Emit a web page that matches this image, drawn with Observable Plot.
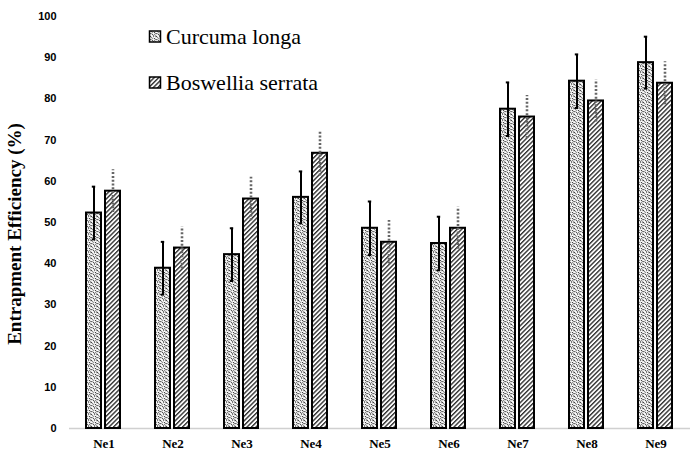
<!DOCTYPE html>
<html>
<head>
<meta charset="utf-8">
<script src="https://cdn.jsdelivr.net/npm/d3@7"></script>
<script src="https://cdn.jsdelivr.net/npm/@observablehq/plot@0.6"></script>
<style>
  body { margin: 0; background: #fff; }
  #chart svg { display: block; }
</style>
</head>
<body>
<div id="chart"></div>
<script>
const categories = ["Ne1", "Ne2", "Ne3", "Ne4", "Ne5", "Ne6", "Ne7", "Ne8", "Ne9"];
const seriesNames = ["Curcuma longa", "Boswellia serrata"];
const curcuma = [52.3, 38.9, 42.2, 56.1, 48.6, 44.9, 77.5, 84.3, 88.8];
const curcumaErr = [6.4, 6.4, 6.4, 6.3, 6.5, 6.5, 6.5, 6.5, 6.3];
const boswellia = [57.6, 43.8, 55.7, 66.8, 45.2, 48.6, 75.6, 79.5, 83.8];
const boswelliaErr = [5.2, 5.1, 5.3, 5.5, 5.3, 5.1, 5.2, 5.1, 5.2];
const yTicks = [0, 10, 20, 30, 40, 50, 60, 70, 80, 90, 100];
const yLabel = "Entrapment Efficiency (%)";

const SERIF = "'Liberation Serif', 'Times New Roman', Times, serif";
const SANS = "'Liberation Sans', Arial, Helvetica, sans-serif";

const rows = [];
categories.forEach((c, i) => {
  rows.push({cat: c, series: seriesNames[0], value: curcuma[i], err: curcumaErr[i]});
  rows.push({cat: c, series: seriesNames[1], value: boswellia[i], err: boswelliaErr[i]});
});
const isC = d => d.series === seriesNames[0];
const fillFor = s => s === seriesNames[0] ? "url(#dotsPat)" : "url(#hatchPat)";

const chart = Plot.plot({
  width: 691,
  height: 450,
  marginTop: 16,
  marginBottom: 22,
  marginLeft: 68,
  marginRight: 0,
  facet: {data: rows, x: "cat"},
  fx: {domain: categories, padding: 0, axis: "bottom", tickSize: 0, tickPadding: 10, label: null},
  x: {domain: seriesNames, paddingInner: 0.2, paddingOuter: 0.83, axis: null},
  y: {domain: [0, 100], ticks: yTicks, tickSize: 0, tickPadding: 13, label: null, grid: false},
  style: {background: "#fff", color: "#000"},
  marks: [
    Plot.ruleY([0], {stroke: "#d0d0d0", strokeWidth: 1.5}),
    Plot.barY(rows, {x: "series", y: "value", fill: d => fillFor(d.series), stroke: "#000", strokeWidth: 2}),
    // Curcuma: solid black error bars with caps
    Plot.ruleX(rows, {x: "series", y1: d => d.value - d.err, y2: d => d.value + d.err,
      stroke: d => isC(d) ? "#000" : "none", strokeWidth: 2}),
    Plot.tickY(rows, {x: "series", y: d => d.value + d.err,
      stroke: d => isC(d) ? "#000" : "none", strokeWidth: 2, insetLeft: 5.8, insetRight: 5.8}),
    Plot.tickY(rows, {x: "series", y: d => d.value - d.err,
      stroke: d => isC(d) ? "#000" : "none", strokeWidth: 2, insetLeft: 5.8, insetRight: 5.8}),
    // Boswellia: dotted grey error bars
    Plot.ruleX(rows, {x: "series", y1: d => d.value - d.err, y2: d => d.value + d.err,
      stroke: d => isC(d) ? "none" : "#666", strokeWidth: 2.6, strokeDasharray: "2,1.8"})
  ]
});

const svgNode = chart.tagName.toLowerCase() === "svg" ? chart : chart.querySelector("svg");
const svg = d3.select(svgNode);

// axis text styling
svg.selectAll("text").each(function() {
  const t = this.textContent;
  if (categories.includes(t)) {
    d3.select(this)
      .style("font-family", SERIF)
      .style("font-weight", "bold").style("font-size", "13px").style("fill", "#000");
  } else if (yTicks.map(String).includes(t)) {
    d3.select(this)
      .style("font-family", SANS)
      .style("font-weight", "bold").style("font-size", "11px").style("fill", "#000");
  }
});

// pattern definitions
const defs = svg.insert("defs", ":first-child");
const dots = defs.append("pattern").attr("id", "dotsPat").attr("patternUnits", "userSpaceOnUse")
  .attr("width", 6).attr("height", 6);
dots.append("rect").attr("width", 6).attr("height", 6).attr("fill", "#e2e2e2");
const dotPts = [[0,0,"#444"],[3,0,"#777"],[1,1,"#888"],[4,1,"#fff"],[4,2,"#444"],[2,2,"#999"],[0,3,"#666"],[5,3,"#888"],[2,4,"#555"],[3,5,"#777"],[5,5,"#999"],[1,5,"#fff"],[4,4,"#888"],[0,2,"#fff"],[2,0,"#fff"],[5,0,"#999"],[1,3,"#aaa"],[3,3,"#fff"]];
dotPts.forEach(([x, y, c]) => dots.append("rect").attr("x", x).attr("y", y).attr("width", 1).attr("height", 1).attr("fill", c));
const hatch = defs.append("pattern").attr("id", "hatchPat").attr("patternUnits", "userSpaceOnUse")
  .attr("width", 3.2).attr("height", 3.2).attr("patternTransform", "rotate(45)");
hatch.append("rect").attr("width", 3.2).attr("height", 3.2).attr("fill", "#fff");
hatch.append("line").attr("x1", 0.7).attr("y1", 0).attr("x2", 0.7).attr("y2", 3.2)
  .attr("stroke", "#222").attr("stroke-width", 1.3);

// y axis title
svg.append("text")
  .attr("transform", "translate(17,234) rotate(-90)")
  .attr("text-anchor", "middle")
  .attr("dominant-baseline", "middle")
  .style("font-family", SERIF)
  .style("font-weight", "bold")
  .style("font-size", "19px")
  .style("fill", "#000")
  .text(yLabel);

// legend
const legendY = [37, 83];
const legend = svg.append("g").attr("aria-label", "legend");
seriesNames.forEach((s, i) => {
  legend.append("rect").attr("x", 149.5).attr("y", legendY[i] - 6).attr("width", 11).attr("height", 11)
    .attr("fill", fillFor(s)).attr("stroke", "#000").attr("stroke-width", 1.5);
  legend.append("text").attr("x", 166).attr("y", legendY[i] + 7)
    .attr("text-anchor", "start")
    .style("font-family", SERIF)
    .style("font-weight", "normal")
    .style("font-size", "22px").style("fill", "#000").text(s);
});

document.getElementById("chart").append(chart);
</script>
</body>
</html>
